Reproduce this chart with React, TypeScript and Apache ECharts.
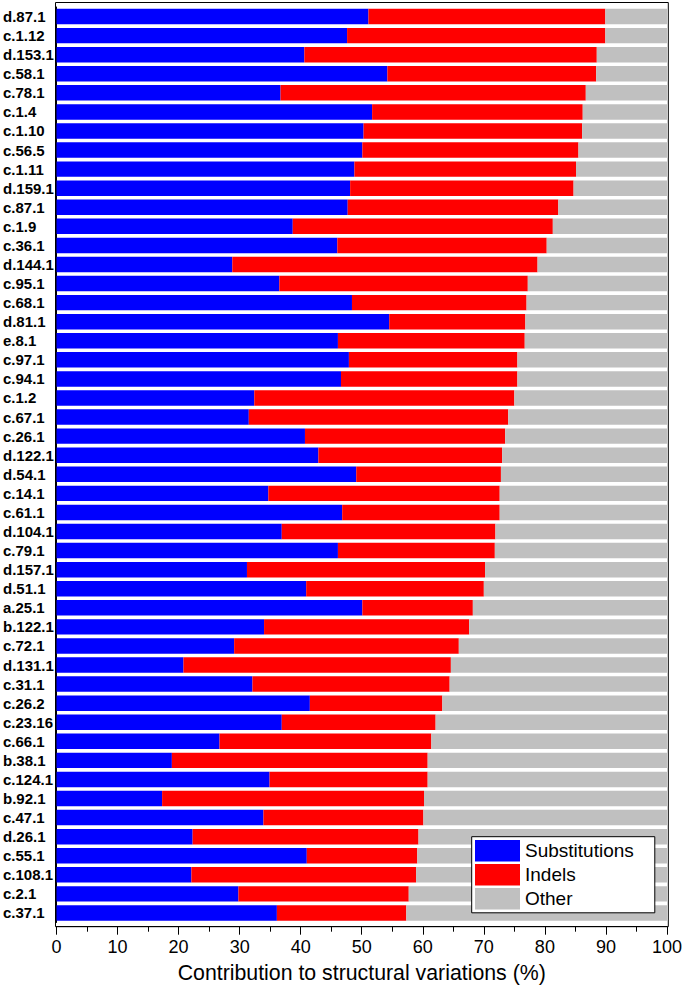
import React, { useEffect, useRef } from "react";
import * as echarts from "echarts";

const categories = [
  "d.87.1", "c.1.12", "d.153.1", "c.58.1", "c.78.1", "c.1.4", "c.1.10", "c.56.5",
  "c.1.11", "d.159.1", "c.87.1", "c.1.9", "c.36.1", "d.144.1", "c.95.1", "c.68.1",
  "d.81.1", "e.8.1", "c.97.1", "c.94.1", "c.1.2", "c.67.1", "c.26.1", "d.122.1",
  "d.54.1", "c.14.1", "c.61.1", "d.104.1", "c.79.1", "d.157.1", "d.51.1", "a.25.1",
  "b.122.1", "c.72.1", "d.131.1", "c.31.1", "c.26.2", "c.23.16", "c.66.1", "b.38.1",
  "c.124.1", "b.92.1", "c.47.1", "d.26.1", "c.55.1", "c.108.1", "c.2.1", "c.37.1",
];

const substitutions = [
  51.1, 47.6, 40.6, 54.2, 36.7, 51.7, 50.3, 50.1,
  48.8, 48.1, 47.7, 38.7, 46.0, 28.8, 36.5, 48.4,
  54.5, 46.1, 47.9, 46.6, 32.4, 31.5, 40.7, 42.9,
  49.1, 34.7, 46.8, 36.9, 46.1, 31.2, 40.9, 50.1,
  34.0, 29.1, 20.8, 32.1, 41.5, 36.9, 26.7, 18.9,
  34.9, 17.3, 33.9, 22.3, 41.0, 22.1, 29.8, 36.1,
];

const indels = [
  38.8, 42.3, 47.9, 34.2, 50.0, 34.5, 35.8, 35.4,
  36.3, 36.6, 34.5, 42.6, 34.3, 50.0, 40.7, 28.6,
  22.3, 30.6, 27.6, 28.9, 42.6, 42.5, 32.8, 30.1,
  23.7, 37.9, 25.8, 35.0, 25.7, 39.0, 29.1, 18.1,
  33.6, 36.8, 43.8, 32.3, 21.7, 25.2, 34.7, 41.9,
  25.9, 42.9, 26.2, 37.0, 18.1, 36.8, 27.9, 21.2,
];

const other = [
  10.1, 10.1, 11.5, 11.6, 13.3, 13.8, 13.9, 14.5,
  14.9, 15.3, 17.8, 18.7, 19.7, 21.2, 22.8, 23.0,
  23.2, 23.3, 24.5, 24.5, 25.0, 26.0, 26.5, 27.0,
  27.2, 27.4, 27.4, 28.1, 28.2, 29.8, 30.0, 31.8,
  32.4, 34.1, 35.4, 35.6, 36.8, 37.9, 38.6, 39.2,
  39.2, 39.8, 39.9, 40.7, 40.9, 41.1, 42.3, 42.7,
];

const xTicks = [0, 10, 20, 30, 40, 50, 60, 70, 80, 90, 100];

const FONT = "'Liberation Sans', Arial, Helvetica, sans-serif";

export default function App() {
  const ref = useRef<HTMLDivElement>(null);

  useEffect(() => {
    if (!ref.current) return;
    const chart = echarts.init(ref.current, null, { renderer: "svg" });
    const option: any = {
      animation: false,
      backgroundColor: "#ffffff",
      textStyle: { fontFamily: FONT },
      grid: {
        left: 55.5,
        right: 16.7,
        top: 7,
        bottom: 66.5,
        containLabel: false,
      },
      legend: {
        orient: "vertical",
        left: 471.7,
        top: 836.7,
        itemWidth: 45,
        itemHeight: 21.5,
        itemGap: 2.5,
        padding: [3.3, 21, 3.3, 3.3],
        backgroundColor: "#ffffff",
        borderColor: "#000000",
        borderWidth: 1,
        icon: "rect",
        textStyle: { fontSize: 19, color: "#000000", fontFamily: FONT },
        data: ["Substitutions", "Indels", "Other"],
      },
      xAxis: {
        type: "value",
        min: xTicks[0],
        max: xTicks[xTicks.length - 1],
        interval: 10,
        offset: 4.2,
        axisLine: { show: true, lineStyle: { color: "#000000", width: 1 } },
        axisTick: { show: true, length: 8, inside: false, lineStyle: { color: "#000000" } },
        minorTick: { show: true, splitNumber: 2, length: 5, lineStyle: { color: "#000000" } },
        splitLine: { show: false },
        axisLabel: { fontSize: 18, color: "#000000", margin: 11, fontFamily: FONT },
        name: "Contribution to structural variations (%)",
        nameLocation: "middle",
        nameGap: 36,
        nameTextStyle: { fontSize: 21.3, color: "#000000", fontFamily: FONT },
      },
      yAxis: {
        type: "category",
        inverse: true,
        data: categories,
        axisLine: { show: true, lineStyle: { color: "#000000" } },
        axisTick: { show: false },
        splitLine: { show: false },
        axisLabel: {
          interval: 0,
          hideOverlap: false,
          align: "left",
          margin: 53.5,
          fontSize: 15,
          fontWeight: "bold",
          color: "#000000",
          fontFamily: FONT,
        },
      },
      graphic: [
        {
          type: "rect",
          shape: { x: 55.5, y: 2.5, width: 612.8, height: 924.2 },
          style: { fill: "none", stroke: "#000000", lineWidth: 1 },
          z: 100,
          silent: true,
        },
      ],
      series: [
        {
          name: "Substitutions",
          type: "bar",
          stack: "total",
          data: substitutions,
          barCategoryGap: "19%",
          itemStyle: { color: "#0000ff" },
        },
        {
          name: "Indels",
          type: "bar",
          stack: "total",
          data: indels,
          barCategoryGap: "19%",
          itemStyle: { color: "#ff0000" },
        },
        {
          name: "Other",
          type: "bar",
          stack: "total",
          data: other,
          barCategoryGap: "19%",
          itemStyle: { color: "#c0c0c0" },
        },
      ],
    };
    chart.setOption(option);
    return () => {
      chart.dispose();
    };
  }, []);

  return (
    <div
      ref={ref}
      style={{ position: "absolute", left: 0, top: 0, width: 685, height: 989 }}
    />
  );
}
